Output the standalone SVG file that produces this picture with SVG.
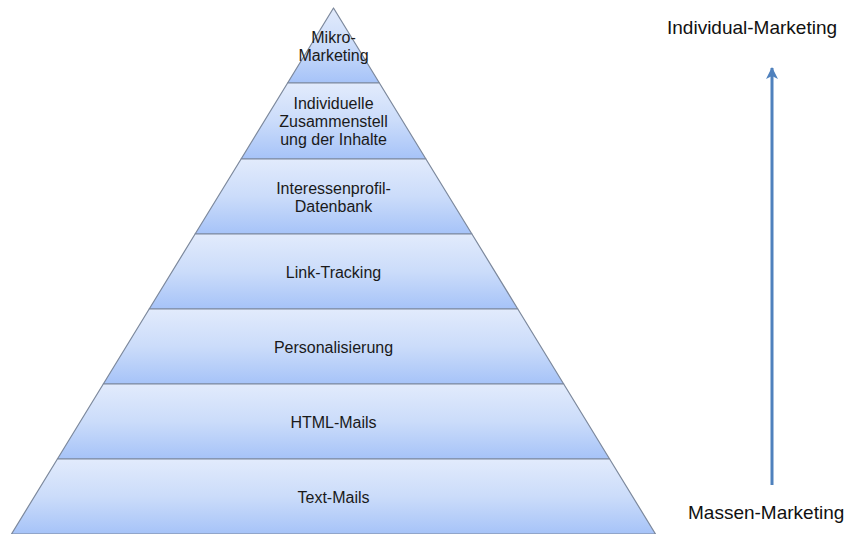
<svg xmlns="http://www.w3.org/2000/svg" width="846" height="534" viewBox="0 0 846 534">
<style>
.layer{fill:url(#g);stroke:#7c889c;stroke-width:1.2;stroke-linejoin:round}
.t{font-family:"Liberation Sans",Arial,sans-serif;font-size:16px;fill:#1a1a1a;text-anchor:middle}
.side{font-family:"Liberation Sans",Arial,sans-serif;font-size:19px;fill:#111}
.arr{stroke:#4f81bd;stroke-width:3;fill:none}
</style>
<defs>
<linearGradient id="g" x1="0" y1="0" x2="0" y2="1">
<stop offset="0" stop-color="#e2ebfc"/>
<stop offset="0.5" stop-color="#cbdcfa"/>
<stop offset="1" stop-color="#a6c3f8"/>
</linearGradient>
<marker id="ah" viewBox="0 0 12 12" refX="11" refY="6" markerWidth="12" markerHeight="12" markerUnits="userSpaceOnUse" orient="auto">
<path d="M0,0 L12,6 L0,12 L3,6 Z" fill="#4f81bd"/>
</marker>
</defs>
<rect width="846" height="534" fill="#fff"/>
<g id="layer1"><polygon class="layer" points="333.5,8 379.4,83 287.6,83"/>
<text class="t" x="333.5" y="43">Mikro-</text><text class="t" x="333.5" y="61">Marketing</text></g>
<g id="layer2"><polygon class="layer" points="287.6,83 379.4,83 425.9,159 241.1,159"/>
<text class="t" x="333.5" y="109">Individuelle</text><text class="t" x="333.5" y="127">Zusammenstell</text><text class="t" x="333.5" y="145">ung der Inhalte</text></g>
<g id="layer3"><polygon class="layer" points="241.1,159 425.9,159 471.9,234 195.1,234"/>
<text class="t" x="333.5" y="194">Interessenprofil-</text><text class="t" x="333.5" y="212">Datenbank</text></g>
<g id="layer4"><polygon class="layer" points="195.1,234 471.9,234 517.8,309 149.2,309"/>
<text class="t" x="333.5" y="277.5">Link-Tracking</text></g>
<g id="layer5"><polygon class="layer" points="149.2,309 517.8,309 563.7,384 103.3,384"/>
<text class="t" x="333.5" y="352.5">Personalisierung</text></g>
<g id="layer6"><polygon class="layer" points="103.3,384 563.7,384 609.6,459 57.4,459"/>
<text class="t" x="333.5" y="428">HTML-Mails</text></g>
<g id="layer7"><polygon class="layer" points="57.4,459 609.6,459 655.5,534 11.5,534"/>
<text class="t" x="333.5" y="503">Text-Mails</text></g>
<g id="label-top"><text class="side" x="667" y="34">Individual-Marketing</text></g>
<g id="label-bottom"><text class="side" x="688" y="519">Massen-Marketing</text></g>
<g id="connectors"><line class="arr" x1="772" y1="485" x2="772" y2="68" marker-end="url(#ah)"/></g>
</svg>
